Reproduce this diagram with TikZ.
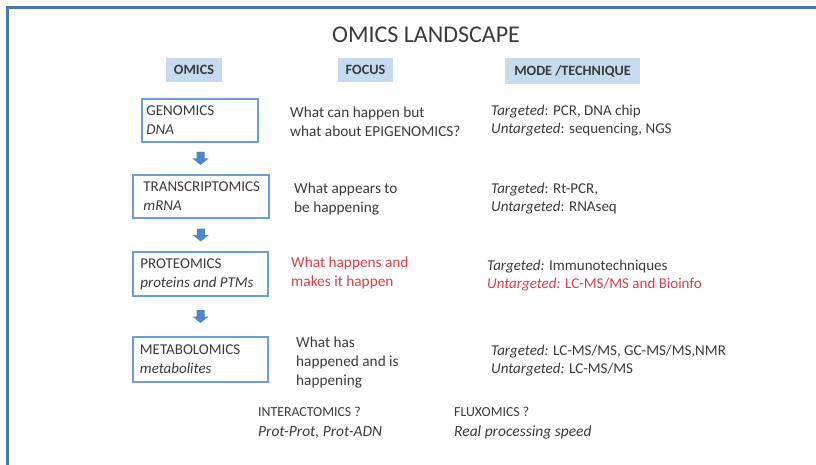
\documentclass[tikz,border=0pt]{standalone}
\usepackage{fontspec}
\setmainfont{Carlito}
\usetikzlibrary{calc}
\definecolor{txt}{HTML}{3A3A3A}
\definecolor{hdrfill}{HTML}{C6DAF0}
\definecolor{boxc}{HTML}{6A9FD4}
\definecolor{arrc}{HTML}{4F86C6}
\definecolor{framec}{HTML}{4A7BAF}
\definecolor{redt}{HTML}{DC3B47}
\begin{document}
\begin{tikzpicture}[x=1pt,y=-1pt,
  every node/.style={text=txt},
  hdr/.style={fill=hdrfill, font=\fontsize{14.2}{16}\selectfont\bfseries, minimum height=24pt, inner sep=0pt},
  omicbox/.style={draw=boxc, line width=1.6pt, minimum height=44pt, inner sep=0pt},
  boxtext/.style={anchor=west, align=left, inner sep=0pt, font=\fontsize{15}{19}\selectfont},
  focus/.style={anchor=west, align=left, inner sep=0pt, font=\fontsize{15.3}{19}\selectfont},
  mode/.style={anchor=west, align=left, inner sep=0pt, font=\fontsize{15}{18}\selectfont},
  extra/.style={anchor=west, align=left, inner sep=0pt, font=\fontsize{13.8}{20}\selectfont},
  blockarrow/.style={fill=arrc}
]
\useasboundingbox (0,0) rectangle (816,465);
\draw[framec, line width=3pt] (7,465) -- (7,7.5) -- (816,7.5);

\node[font=\fontsize{24}{28}\selectfont] (title) at (426,35) {OMICS LANDSCAPE};

\node[hdr, minimum width=56pt] (h1) at (194,70) {OMICS};
\node[hdr, minimum width=55pt] (h2) at (365.5,70) {FOCUS};
\node[hdr, minimum width=135pt, minimum height=26pt] (h3) at (572.5,71) {MODE /TECHNIQUE};

\node[omicbox, minimum width=116pt, minimum height=43pt] (gen) at (200,120.5) {};
\node[omicbox, minimum width=136pt, minimum height=43pt] (tra) at (201,196.5) {};
\node[omicbox, minimum width=135pt] (pro) at (200.5,274) {};
\node[omicbox, minimum width=135pt, minimum height=45pt] (met) at (200.5,359.5) {};

\node[boxtext] (gent) at ($(gen.west)+(5,0)$) {GENOMICS\\\textit{DNA}};
\node[boxtext] (trat) at ($(tra.west)+(11,0)$) {TRANSCRIPTOMICS\\\textit{mRNA}};
\node[boxtext] (prot) at ($(pro.west)+(8,0)$) {PROTEOMICS\\\textit{proteins and PTMs}};
\node[boxtext] (mett) at ($(met.west)+(7.5,0)$) {METABOLOMICS\\\textit{metabolites}};

\foreach \a/\b in {gen/tra,tra/pro,pro/met}{
  \coordinate (m) at ($(\a.south)!0.5!(\b.north)$);
  \fill[blockarrow] ($(m)+(-4,-6.5)$) -- ($(m)+(4,-6.5)$) -- ($(m)+(4,0)$) -- ($(m)+(8,0)$)
     -- ($(m)+(0,6.5)$) -- ($(m)+(-8,0)$) -- ($(m)+(-4,0)$) -- cycle;
}

\node[focus] (f1) at (290,121.5) {What can happen but\\what about EPIGENOMICS?};
\node[focus] (f2) at (294,199) {What appears to\\be happening};
\node[focus, text=redt] (f3) at (291,272.5) {What happens and\\makes it happen};
\node[focus] (f4) at (296,363) {What has\\happened and is\\happening};

\node[mode] (m1) at (491,121) {\textit{Targeted}: PCR, DNA chip\\\textit{Untargeted}: sequencing, NGS};
\node[mode] (m2) at (491,198.5) {\textit{Targeted}: Rt-PCR,\\\textit{Untargeted}: RNAseq};
\node[mode] (m3) at (487,276) {\textit{Targeted:} Immunotechniques\\\textcolor{redt}{\textit{Untargeted:} LC-MS/MS and Bioinfo}};
\node[mode] (m4) at (491,361) {\textit{Targeted:} LC-MS/MS, GC-MS/MS,NMR\\\textit{Untargeted:} LC-MS/MS};

\node[extra] (i1) at (258,423) {INTERACTOMICS ?\\\fontsize{15.5}{20}\selectfont\textit{Prot-Prot, Prot-ADN}};
\node[extra] (fx) at (454,423) {FLUXOMICS ?\\\fontsize{15.5}{20}\selectfont\textit{Real processing speed}};
\end{tikzpicture}
\end{document}
